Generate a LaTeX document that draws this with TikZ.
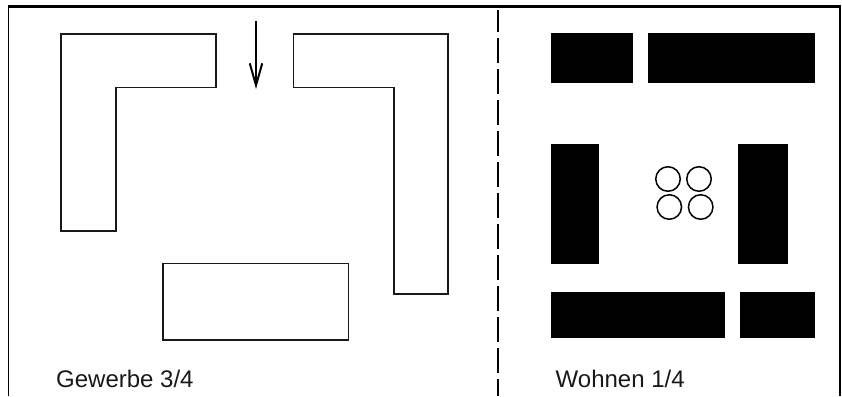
\documentclass[tikz,border=0pt]{standalone}
\usepackage{fontspec}
\setmainfont{Liberation Sans}
\usetikzlibrary{arrows.meta}
\tikzset{
  outlinebox/.style={draw=black!90,line width=1.8pt,line join=miter,fill=white},
  solidbox/.style={fill=black,draw=none},
  ringshape/.style={draw=black,line width=1.5pt,circle,minimum size=24.5pt,inner sep=0pt},
  framerule/.style={draw=black,line width=1.8pt},
  caption/.style={anchor=base west,inner sep=0pt,font=\fontsize{24}{28}\selectfont,text=black!90},
}
\begin{document}
\begin{tikzpicture}[x=1pt,y=-1pt]
\useasboundingbox (0,0) rectangle (842,396);
% frame
\draw[framerule] (8.5,396) -- (8.5,6.5);
\draw[black,line width=2.2pt] (7.6,6.5) -- (841.2,6.5);
\draw[black,line width=2.2pt] (840.3,6) -- (840.3,396);
% outlined buildings
\draw[outlinebox] (61,33.7) -- (216,33.7) -- (216,87.5) -- (116,87.5) -- (116,231) -- (61,231) -- cycle;
\draw[outlinebox] (293.5,33.7) -- (447.7,33.7) -- (447.7,294.3) -- (394,294.3) -- (394,87.5) -- (293.5,87.5) -- cycle;
\draw[outlinebox] (163.2,263.4) rectangle (348.5,340.3);
% arrow
\coordinate (arrowstart) at (256,21);
\coordinate (arrowend) at (256,89);
\draw[line width=1.3pt,-{Straight Barb[length=22pt,width=12.5pt,line width=2pt]}] (arrowstart) -- (arrowend);
% dashed divider
\coordinate (dividertop) at (498,10);
\coordinate (dividerbottom) at (498,396);
\draw[line width=2pt,dash pattern=on 25pt off 6pt,dash phase=3pt] (dividertop) -- (dividerbottom);
% solid buildings
\fill[solidbox] (551.3,33) rectangle (633,82.7);
\fill[solidbox] (647.7,33) rectangle (814.7,82.7);
\fill[solidbox] (551.3,143.7) rectangle (599.3,264.3);
\fill[solidbox] (738,143.7) rectangle (787.7,264.3);
\fill[solidbox] (551.3,291.7) rectangle (725,338.3);
\fill[solidbox] (739.7,291.7) rectangle (815.3,338.3);
% circles
\node[ringshape] (ringa) at (668,179) {};
\node[ringshape] (ringb) at (699,179) {};
\node[ringshape] (ringc) at (669.3,207) {};
\node[ringshape] (ringd) at (700.7,207) {};
% captions
\node[caption] (gewerbe) at (56,387) {Gewerbe 3/4};
\node[caption] (wohnen) at (555.5,387) {Wohnen 1/4};
\end{tikzpicture}
\end{document}
